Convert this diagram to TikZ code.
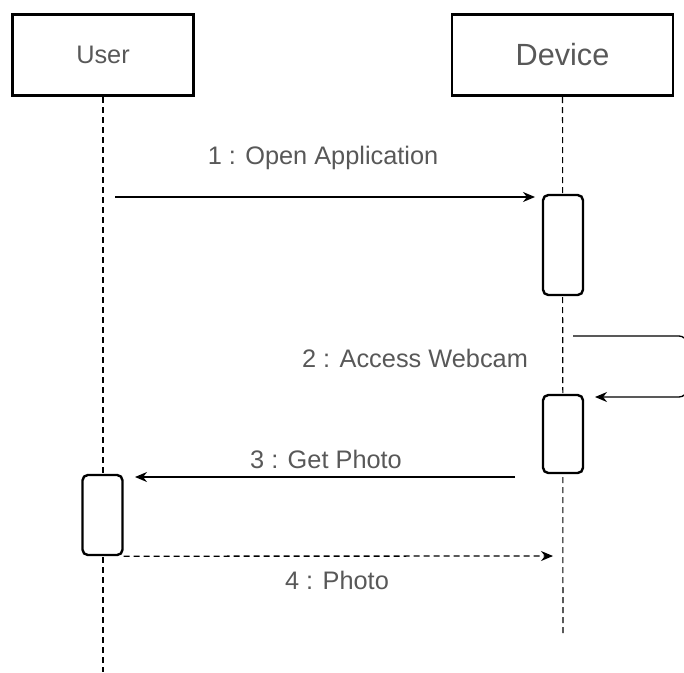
\documentclass[tikz,border=0pt]{standalone}
\usepackage{fontspec}
\setmainfont{Liberation Sans}
\usetikzlibrary{arrows.meta,positioning,calc}
\definecolor{labelgray}{RGB}{88,88,88}

\begin{document}
\begin{tikzpicture}[x=0.75pt,y=-0.75pt,
    actor/.style={draw,line width=2.2pt,minimum width=#1,minimum height=61pt,inner sep=0pt,text=labelgray},
    activation/.style={draw,fill=white,line width=1.8pt,rounded corners=4pt,minimum width=30pt,minimum height=#1,inner sep=0pt},
    lifeline/.style={dash pattern=on 4.5pt off 3pt,line width=0.8pt},
    msg/.style={-{Stealth[length=9pt,width=7.5pt]},line width=1pt},
    msglabel/.style={text=labelgray,font=\fontsize{19}{22}\selectfont}]
    \useasboundingbox (0,0) rectangle (684,672);

    \node[actor=135.75pt,font=\fontsize{19}{22}\selectfont] (user) at (103,55) {User};
    \node[actor=165.75pt,font=\fontsize{23}{27}\selectfont] (device) at (562.5,55) {Device};

    % lifelines
    \coordinate (userend) at (103,672);
    \coordinate (deviceend) at (563,635);
    \draw[lifeline] (user.south) -- (userend);
    \draw[lifeline] (device.south) -- (deviceend);

    % activations
    \node[activation=75pt] (act1) at (563,245) {};
    \node[activation=58.5pt] (act2) at (563,434) {};
    \node[activation=60pt] (act3) at (102.5,515) {};

    % messages
    \coordinate (m1start) at (115,197);
    \coordinate (m1end) at (535,197);
    \draw[msg] (m1start) -- (m1end);
    \node[msglabel] (m1label) at (323,158) {1 : Open Application};

    \coordinate (m2start) at (573,336);
    \coordinate (m2end) at (595,397);
    \draw[msg,rounded corners=6pt] (m2start) -- (687,336) -- (687,397) -- (m2end);
    \node[msglabel] (m2label) at (415,358) {2 : Access Webcam};

    \coordinate (m3start) at (515,477);
    \coordinate (m3end) at (135,477);
    \draw[msg] (m3start) -- (m3end);
    \node[msglabel] (m3label) at (326,459) {3 : Get Photo};

    \coordinate (m4end) at (553,556);
    \draw[msg,dash pattern=on 4.5pt off 3pt] (act3.south east) -- (m4end);
    \node[msglabel] (m4label) at (337,580) {4 : Photo};
\end{tikzpicture}
\end{document}
